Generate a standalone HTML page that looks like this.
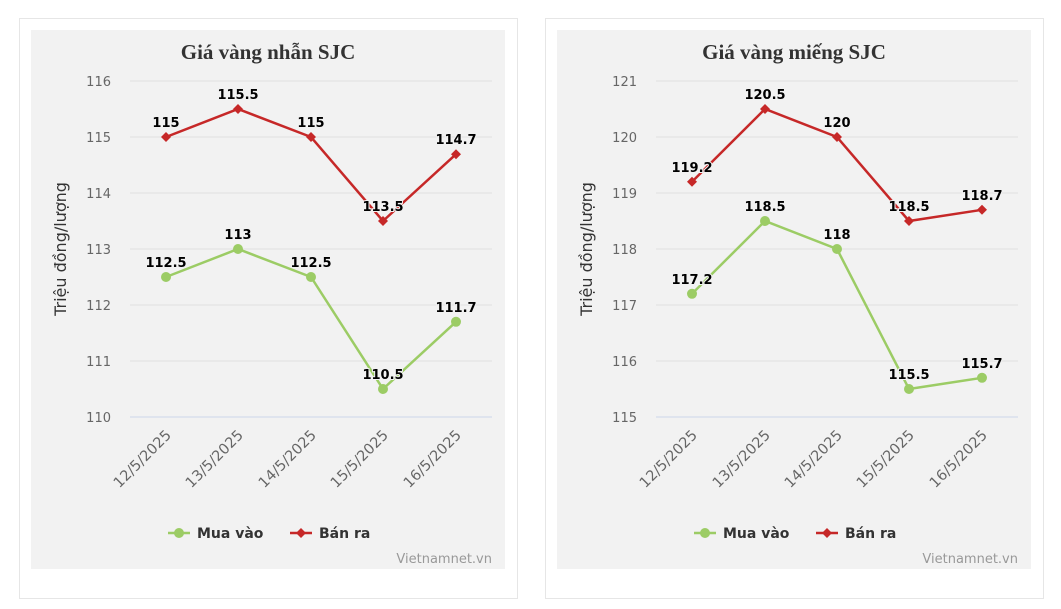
<!DOCTYPE html>
<html><head><meta charset="utf-8"><style>
body{margin:0;background:#fff;}
svg{display:block;font-family:"DejaVu Sans","Liberation Sans",sans-serif;}
.yl{font-size:13px;fill:#666;text-anchor:end;}
.xl{font-size:14.5px;fill:#666;text-anchor:end;}
.dl{font-size:13px;font-weight:bold;fill:#000;text-anchor:middle;stroke:#f2f2f2;stroke-width:2px;paint-order:stroke;}
.tt{font-family:"Liberation Serif",serif;font-size:21px;font-weight:bold;fill:#333;text-anchor:middle;}
.lg{font-size:14px;font-weight:bold;fill:#333;}
.wm{font-size:13px;fill:#999;text-anchor:end;}
.grid{stroke:#e0e0e0;stroke-width:1;}
</style></head><body>
<svg width="1061" height="609" viewBox="0 0 1061 609">
<rect x="19.5" y="18.5" width="498" height="580" fill="#fff" stroke="#e6e6e6"/>
<rect x="545.5" y="18.5" width="498" height="580" fill="#fff" stroke="#e6e6e6"/>
<rect x="31" y="30" width="474" height="539" fill="#f2f2f2"/>
<rect x="557" y="30" width="474" height="539" fill="#f2f2f2"/>

<!-- LEFT -->
<g>
<text class="tt" x="268" y="59">Giá vàng nhẫn SJC</text>
<g class="grid"><line x1="130" x2="492" y1="81" y2="81"/><line x1="130" x2="492" y1="137" y2="137"/><line x1="130" x2="492" y1="193" y2="193"/><line x1="130" x2="492" y1="249" y2="249"/><line x1="130" x2="492" y1="305" y2="305"/><line x1="130" x2="492" y1="361" y2="361"/></g>
<line x1="130" x2="492" y1="417" y2="417" stroke="#ccd6eb"/>
<text class="yl" x="111" y="86">116</text><text class="yl" x="111" y="142">115</text><text class="yl" x="111" y="198">114</text><text class="yl" x="111" y="254">113</text><text class="yl" x="111" y="310">112</text><text class="yl" x="111" y="366">111</text><text class="yl" x="111" y="422">110</text>
<text transform="translate(66,249) rotate(-90)" style="font-size:16px;fill:#333;text-anchor:middle">Triệu đồng/lượng</text>
<text class="xl" transform="translate(172,436) rotate(-45)">12/5/2025</text>
<text class="xl" transform="translate(244,436) rotate(-45)">13/5/2025</text>
<text class="xl" transform="translate(317,436) rotate(-45)">14/5/2025</text>
<text class="xl" transform="translate(389,436) rotate(-45)">15/5/2025</text>
<text class="xl" transform="translate(462,436) rotate(-45)">16/5/2025</text>
<polyline fill="none" stroke="#9ccc65" stroke-width="2.5" points="166,277 238,249 311,277 383,389 456,321.8"/>
<g fill="#9ccc65"><circle cx="166" cy="277" r="5"/><circle cx="238" cy="249" r="5"/><circle cx="311" cy="277" r="5"/><circle cx="383" cy="389" r="5"/><circle cx="456" cy="321.8" r="5"/></g>
<polyline fill="none" stroke="#c62828" stroke-width="2.5" points="166,137 238,109 311,137 383,221 456,154.2"/>
<g fill="#c62828"><path d="M166 132l5 5-5 5-5-5z"/><path d="M238 104l5 5-5 5-5-5z"/><path d="M311 132l5 5-5 5-5-5z"/><path d="M383 216l5 5-5 5-5-5z"/><path d="M456 149.2l5 5-5 5-5-5z"/></g>
<text class="dl" x="166" y="127">115</text><text class="dl" x="238" y="99">115.5</text><text class="dl" x="311" y="127">115</text><text class="dl" x="383" y="211">113.5</text><text class="dl" x="456" y="144">114.7</text>
<text class="dl" x="166" y="267">112.5</text><text class="dl" x="238" y="239">113</text><text class="dl" x="311" y="267">112.5</text><text class="dl" x="383" y="379">110.5</text><text class="dl" x="456" y="312">111.7</text>
<line x1="168" x2="190" y1="533" y2="533" stroke="#9ccc65" stroke-width="2.5"/><circle cx="179" cy="533" r="5" fill="#9ccc65"/>
<text class="lg" x="197" y="538">Mua vào</text>
<line x1="290" x2="312" y1="533" y2="533" stroke="#c62828" stroke-width="2.5"/><path d="M301 528l5 5-5 5-5-5z" fill="#c62828"/>
<text class="lg" x="319" y="538">Bán ra</text>
<text class="wm" x="492" y="563">Vietnamnet.vn</text>
</g>

<!-- RIGHT -->
<g>
<text class="tt" x="794" y="59">Giá vàng miếng SJC</text>
<g class="grid"><line x1="656" x2="1018" y1="81" y2="81"/><line x1="656" x2="1018" y1="137" y2="137"/><line x1="656" x2="1018" y1="193" y2="193"/><line x1="656" x2="1018" y1="249" y2="249"/><line x1="656" x2="1018" y1="305" y2="305"/><line x1="656" x2="1018" y1="361" y2="361"/></g>
<line x1="656" x2="1018" y1="417" y2="417" stroke="#ccd6eb"/>
<text class="yl" x="637" y="86">121</text><text class="yl" x="637" y="142">120</text><text class="yl" x="637" y="198">119</text><text class="yl" x="637" y="254">118</text><text class="yl" x="637" y="310">117</text><text class="yl" x="637" y="366">116</text><text class="yl" x="637" y="422">115</text>
<text transform="translate(592,249) rotate(-90)" style="font-size:16px;fill:#333;text-anchor:middle">Triệu đồng/lượng</text>
<text class="xl" transform="translate(698,436) rotate(-45)">12/5/2025</text>
<text class="xl" transform="translate(771,436) rotate(-45)">13/5/2025</text>
<text class="xl" transform="translate(843,436) rotate(-45)">14/5/2025</text>
<text class="xl" transform="translate(915,436) rotate(-45)">15/5/2025</text>
<text class="xl" transform="translate(988,436) rotate(-45)">16/5/2025</text>
<polyline fill="none" stroke="#9ccc65" stroke-width="2.5" points="692,293.8 765,221 837,249 909,389 982,377.8"/>
<g fill="#9ccc65"><circle cx="692" cy="293.8" r="5"/><circle cx="765" cy="221" r="5"/><circle cx="837" cy="249" r="5"/><circle cx="909" cy="389" r="5"/><circle cx="982" cy="377.8" r="5"/></g>
<polyline fill="none" stroke="#c62828" stroke-width="2.5" points="692,181.8 765,109 837,137 909,221 982,209.8"/>
<g fill="#c62828"><path d="M692 176.8l5 5-5 5-5-5z"/><path d="M765 104l5 5-5 5-5-5z"/><path d="M837 132l5 5-5 5-5-5z"/><path d="M909 216l5 5-5 5-5-5z"/><path d="M982 204.8l5 5-5 5-5-5z"/></g>
<text class="dl" x="692" y="172">119.2</text><text class="dl" x="765" y="99">120.5</text><text class="dl" x="837" y="127">120</text><text class="dl" x="909" y="211">118.5</text><text class="dl" x="982" y="200">118.7</text>
<text class="dl" x="692" y="284">117.2</text><text class="dl" x="765" y="211">118.5</text><text class="dl" x="837" y="239">118</text><text class="dl" x="909" y="379">115.5</text><text class="dl" x="982" y="368">115.7</text>
<line x1="694" x2="716" y1="533" y2="533" stroke="#9ccc65" stroke-width="2.5"/><circle cx="705" cy="533" r="5" fill="#9ccc65"/>
<text class="lg" x="723" y="538">Mua vào</text>
<line x1="816" x2="838" y1="533" y2="533" stroke="#c62828" stroke-width="2.5"/><path d="M827 528l5 5-5 5-5-5z" fill="#c62828"/>
<text class="lg" x="845" y="538">Bán ra</text>
<text class="wm" x="1018" y="563">Vietnamnet.vn</text>
</g>
</svg>
</body></html>
